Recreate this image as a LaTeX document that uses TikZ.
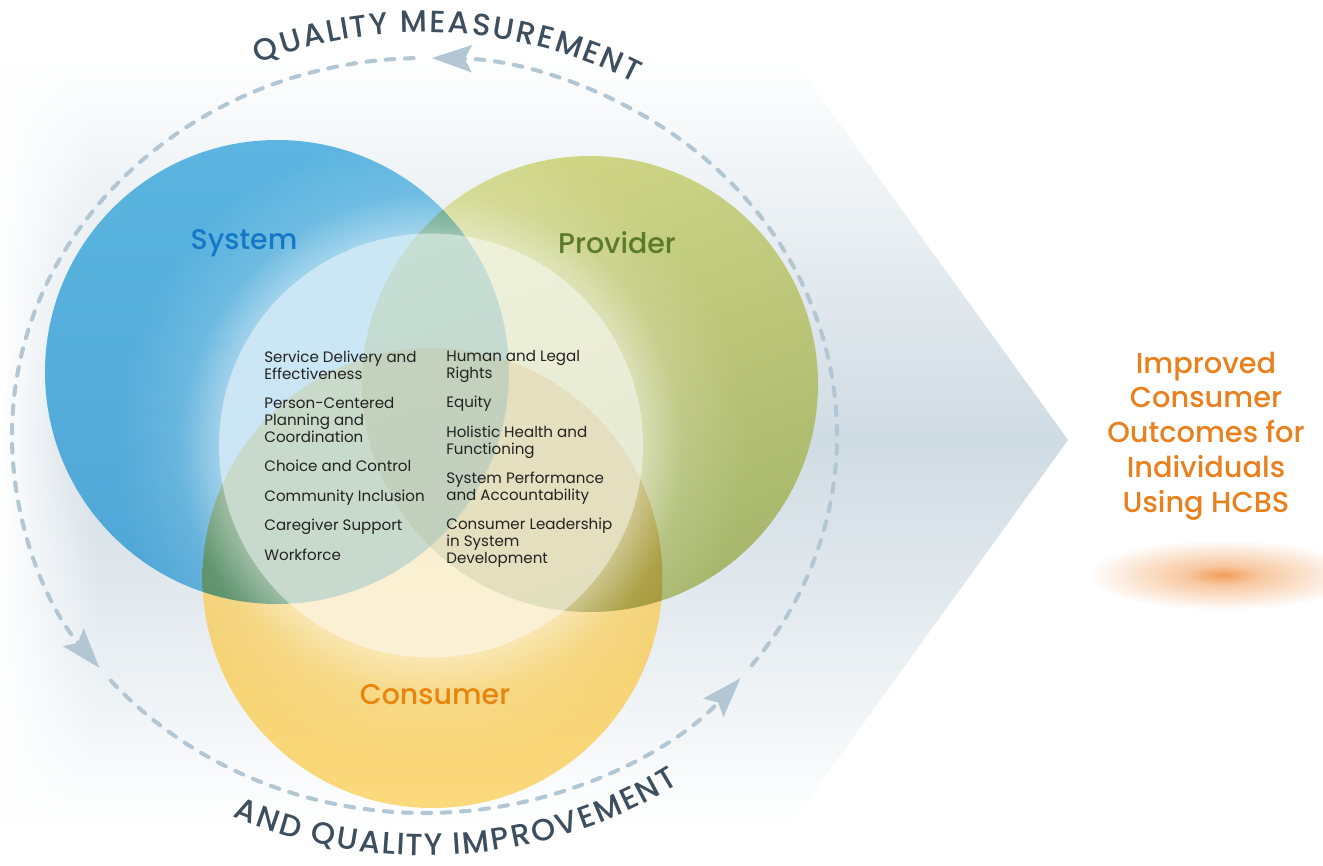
\documentclass[tikz,border=0pt]{standalone}
\usepackage{fontspec}
\setmainfont{Poppins}
\newfontfamily\medfont{Poppins Medium}
\usetikzlibrary{arrows.meta, positioning, calc, fadings, decorations.text}

\definecolor{bgblue}{HTML}{CFDBE3}
\definecolor{sysblue}{HTML}{5BB5E0}
\definecolor{sysbluedark}{HTML}{4EA6D6}
\definecolor{provgreen}{HTML}{CFD686}
\definecolor{provgreendark}{HTML}{A7B66B}
\definecolor{consyellow}{HTML}{EAC45D}
\definecolor{consyellowlight}{HTML}{FBD97C}
\definecolor{flowgray}{HTML}{B3C6D3}
\definecolor{arcgray}{HTML}{3D4E5E}
\definecolor{systext}{HTML}{1577C6}
\definecolor{provtext}{HTML}{5B7A2B}
\definecolor{constext}{HTML}{E8850F}
\definecolor{outtext}{HTML}{E8801E}
\definecolor{gloworange}{HTML}{F08C3A}
\definecolor{itemtext}{HTML}{222222}

% soft glow round the white circle
\pgfdeclareradialshading{ringshade}{\pgfpoint{0bp}{0bp}}{color(0bp)=(white); color(16bp)=(white); color(19bp)=(black!70); color(24bp)=(black); color(50bp)=(black)}
\pgfdeclarefading{ringglow}{\pgfuseshading{ringshade}}
% orange spot under the outcome text
\pgfdeclareradialshading{spotshade}{\pgfpoint{0bp}{0bp}}{color(0bp)=(white); color(7bp)=(black!45); color(25bp)=(black); color(50bp)=(black)}
\pgfdeclarefading{spotfade}{\pgfuseshading{spotshade}}

\newcommand\arcfont{\medfont\fontsize{17.5}{20}\selectfont}

\begin{document}
\begin{tikzpicture}[
    x=0.02cm, y=-0.02cm,
    font=\fontsize{8.6}{9.6}\selectfont,
    % Styles
    item/.style={anchor=north west, align=left, inner sep=0pt, text=itemtext},
    setlabel/.style={font=\medfont\fontsize{16.2}{19}\selectfont, inner sep=0pt},
    outcome/.style={font=\medfont\fontsize{16.4}{19.8}\selectfont, align=center, inner sep=0pt, text=outtext},
    flow/.style={draw=flowgray, line width=2.3pt, line cap=round, dash pattern=on 5pt off 6pt,
        -{Stealth[length=0.8cm, width=0.54cm, inset=0.14cm]}},
    arctext/.style={decorate, decoration={text effects along path, text effects/.cd,
        fit text to path, characters={text along path, text=arcgray, font=\arcfont}}}
]
    \useasboundingbox (0,0) rectangle (1323,866);
    \fill[white] (0,0) rectangle (1323,866);

    % --- Background arrow ---
    \shade[top color=white, bottom color=white, middle color=bgblue]
        (0,55) -- (790,55) -- (1068,440) -- (790,825) -- (0,825) -- cycle;
    \fill[white, path fading=east] (0,55) rectangle (100,825);

    % --- Centres ---
    \coordinate (sysc) at (277,372);
    \coordinate (provc) at (590,384);
    \coordinate (consc) at (432.5,578);
    \coordinate (whc) at (431,445.5);
    \coordinate (ring) at (424.5,435.5);

    % --- Circles ---
    \begin{scope}[blend group=multiply]
        \shade[top color=sysblue, bottom color=sysbluedark] (sysc) circle[radius=232];
        \shade[top color=provgreen, bottom color=provgreendark, shading angle=20] (provc) circle[radius=228];
        \shade[top color=consyellow, bottom color=consyellowlight] (consc) circle[radius=230];
    \end{scope}
    \begin{scope}
        \clip (sysc) circle[radius=232] (provc) circle[radius=228] (consc) circle[radius=230];
        \fill[white, opacity=0.45, path fading=ringglow] (whc) circle[radius=330];
    \end{scope}
    \fill[white, opacity=0.45] (whc) circle[radius=212];

    % --- Measurement loop ---
    \draw[flow] ($(ring)+(37.5:412.5 and 377.5)$) arc[start angle=37.5, end angle=-89, x radius=412.5, y radius=377.5];
    \draw[flow] ($(ring)+(-91.5:412.5 and 377.5)$) arc[start angle=-91.5, end angle=-218, x radius=412.5, y radius=377.5];
    \draw[flow] ($(ring)+(139.5:412.5 and 377.5)$) arc[start angle=139.5, end angle=40, x radius=412.5, y radius=377.5];

    \path[arctext, decoration={text={QUALITY MEASUREMENT}}]
        ($(ring)+(-112.5:435 and 403)$) arc[start angle=-112.5, end angle=-61, x radius=435, y radius=403];
    \path[arctext, decoration={text={AND QUALITY IMPROVEMENT}}]
        ($(ring)+(115:455 and 420)$) arc[start angle=115, end angle=56, x radius=455, y radius=420];

    % --- Set labels ---
    \node[setlabel, text=systext] (system) at (244,243) {System};
    \node[setlabel, text=provtext] (provider) at (617,243) {Provider};
    \node[setlabel, text=constext] (consumer) at (435,695) {Consumer};

    % --- Domains ---
    \node[item] (delivery) at (264,351) {Service Delivery and\\Effectiveness};
    \node[item] (planning) at (264,397) {Person-Centered\\Planning and\\Coordination};
    \node[item] (choice) at (264,460) {Choice and Control};
    \node[item] (inclusion) at (264,490) {Community Inclusion};
    \node[item] (caregiver) at (264,519) {Caregiver Support};
    \node[item] (workforce) at (264,549) {Workforce};

    \node[item] (rights) at (446,350) {Human and Legal\\Rights};
    \node[item] (equity) at (446,396) {Equity};
    \node[item] (health) at (446,426) {Holistic Health and\\Functioning};
    \node[item] (performance) at (446,472) {System Performance\\and Accountability};
    \node[item] (leadership) at (446,518) {Consumer Leadership\\in System\\Development};

    % --- Outcome ---
    \fill[gloworange, opacity=0.85, path fading=spotfade] (1223,575) ellipse[x radius=135, y radius=35];
    \node[outcome] (outcomes) at (1206,436) {Improved\\Consumer\\Outcomes for\\Individuals\\Using HCBS};

\end{tikzpicture}
\end{document}
